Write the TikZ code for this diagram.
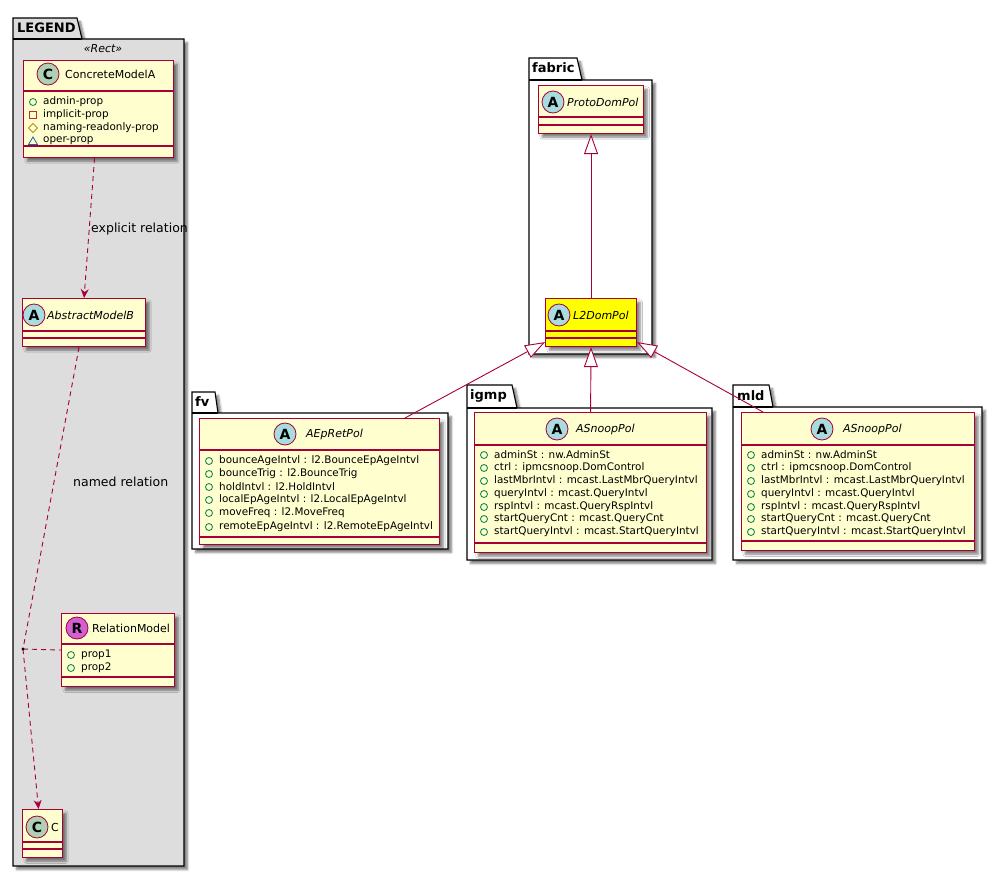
\documentclass[tikz,border=0pt]{standalone}
\usepackage{fontspec}
\setmainfont{DejaVu Sans}
\usetikzlibrary{arrows.meta,shadows.blur,calc}
\definecolor{umlred}{HTML}{A80036}
\definecolor{umlfill}{HTML}{FEFECE}
\definecolor{legendgray}{HTML}{DDDDDD}
\definecolor{iconC}{HTML}{ADD1B2}
\definecolor{iconA}{HTML}{A9DCDF}
\definecolor{iconR}{HTML}{D45FD4}
\definecolor{pubgreen}{HTML}{038048}
\definecolor{privred}{HTML}{C82930}
\definecolor{protyel}{HTML}{B38D22}
\definecolor{pkgblue}{HTML}{1963A0}
\definecolor{l2yellow}{HTML}{FFFF00}

\tikzset{
  shad/.style={blur shadow={shadow xshift=3.5pt, shadow yshift=-3.5pt, shadow blur steps=5, shadow opacity=50}},
  cls/.style={draw=umlred, fill=umlfill, line width=1.1pt, inner sep=0pt, anchor=north west, shad},
  sepline/.style={draw=umlred, line width=1.1pt},
  icon/.style={circle, draw=umlred, line width=0.8pt, minimum size=22pt, inner sep=0pt, font=\fontsize{14}{14}\selectfont\bfseries},
  cname/.style={anchor=west, inner sep=0pt, font=\fontsize{11}{12}\selectfont},
  aname/.style={anchor=west, inner sep=0pt, font=\fontsize{10.4}{11}\selectfont},
  pkgbox/.style={draw=black, line width=1.1pt, fill=white, shad},
  pkglabel/.style={anchor=west, inner sep=0pt, font=\fontsize{13}{13}\selectfont\bfseries},
  rel/.style={draw=umlred, line width=0.9pt},
  dep/.style={rel, dash pattern=on 5pt off 4pt, -{Stealth[length=9pt,width=8pt,inset=3pt]}},
  inh/.style={rel, -{Triangle[open, length=20pt, width=14pt, fill=white]}},
  lbl/.style={anchor=west, inner sep=0pt, font=\fontsize{12.5}{13}\selectfont},
}
% marker macros: #1 x, #2 y
\newcommand\mkpub[2]{\draw[pubgreen, line width=0.8pt] (#1,#2) circle[radius=3.5pt];}
\newcommand\mkpriv[2]{\draw[privred, line width=0.8pt] (#1-3.5,#2-3.5) rectangle (#1+3.5,#2+3.5);}
\newcommand\mkprot[2]{\draw[protyel, line width=0.8pt] (#1,#2-4.5) -- (#1+4.5,#2) -- (#1,#2+4.5) -- (#1-4.5,#2) -- cycle;}
\newcommand\mkpkg[2]{\draw[pkgblue, line width=0.8pt] (#1-4.5,#2+3.5) -- (#1+4.5,#2+3.5) -- (#1,#2-4) -- cycle;}
% attribute row: name, box-left x, y, text
\newcommand\attrrow[4]{\mkpub{#2+10}{#3}\node[aname] (#1) at (#2+20,#3) {#4};}
% package outline: x0, ytab, xtabtop, xtabbot, ybody, x1, ybot, fill
\newcommand\pkgshape[8]{%
  \draw[pkgbox, fill=#8] (#1,#5) -- (#1,#2) -- (#3,#2) -- (#4,#5) -- (#6,#5) -- (#6,#7) -- (#1,#7) -- cycle;
  \draw[line width=1.1pt] (#1,#5) -- (#4,#5);}

\begin{document}
\begin{tikzpicture}[x=1pt,y=-1pt]
\useasboundingbox (0,0) rectangle (1002,876);

% ================= LEGEND =================
\pkgshape{13}{18}{77}{82}{39}{184}{866}{legendgray}
\node[pkglabel] (legendlbl) at (17,28) {LEGEND};
\node[inner sep=0pt, font=\fontsize{11}{12}\selectfont\itshape] (stereo) at (103,49) {«Rect»};

% ConcreteModelA
\node[cls, minimum width=150pt, minimum height=97pt] (cma) at (23,60) {};
\draw[sepline] (23,91) -- (173,91);
\draw[sepline] (23,146) -- (173,146);
\node[icon, fill=iconC] (cmaicon) at (48,74) {C};
\node[cname] (cmaname) at (65,74) {ConcreteModelA};
\mkpub{33}{102}\node[aname] (cmaa1) at (43,102) {admin-prop};
\mkpriv{33}{115}\node[aname] (cmaa2) at (43,115) {implicit-prop};
\mkprot{33}{128}\node[aname] (cmaa3) at (43,128) {naming-readonly-prop};
\mkpkg{33}{141}\node[aname] (cmaa4) at (43,141) {oper-prop};

% AbstractModelB
\node[cls, minimum width=123pt, minimum height=48pt] (amb) at (22,298) {};
\draw[sepline] (22,331) -- (145,331);
\draw[sepline] (22,338) -- (145,338);
\node[icon, fill=iconA] (ambicon) at (34,315) {A};
\node[cname, font=\fontsize{11}{12}\selectfont\itshape] (ambname) at (47,315) {AbstractModelB};

% RelationModel
\node[cls, minimum width=113pt, minimum height=73pt] (rm) at (61,613) {};
\draw[sepline] (61,644) -- (174,644);
\draw[sepline] (61,677) -- (174,677);
\node[icon, fill=iconR] (rmicon) at (77,628) {R};
\node[cname] (rmname) at (92,628) {RelationModel};
\attrrow{rma1}{61}{655}{prop1}
\attrrow{rma2}{61}{668}{prop2}

% C
\node[cls, minimum width=40pt, minimum height=48pt] (cc) at (22,809) {};
\draw[sepline] (22,842) -- (62,842);
\draw[sepline] (22,849) -- (62,849);
\node[icon, fill=iconC] (ccicon) at (37,827) {C};
\node[cname] (ccname) at (51,827) {C};

% legend relations
\coordinate (dot) at (23,649);
\draw[dep] ([xshift=-4pt]cma.south) -- (amb.north);
\node[lbl] (explbl) at (91,229) {explicit relation};
\draw[rel, dash pattern=on 5pt off 4pt] ([xshift=-5pt]amb.south) -- (dot);
\draw[dep] (dot) -- ([xshift=-4pt]cc.north);
\draw[rel, dash pattern=on 5pt off 4pt] (dot) -- (rm.west);
\fill[black] (dot) circle[radius=1.6pt];
\node[lbl] (namedlbl) at (73,482) {named relation};

% ================= fabric =================
\pkgshape{529}{58}{577}{582}{80}{652}{354}{white}
\node[pkglabel] (fabriclbl) at (532,68) {fabric};
\node[cls, minimum width=105pt, minimum height=48pt] (proto) at (538,85) {};
\draw[sepline] (538,117) -- (643,117);
\draw[sepline] (538,125) -- (643,125);
\node[icon, fill=iconA] (protoicon) at (553,102) {A};
\node[cname, font=\fontsize{11}{12}\selectfont\itshape] (protoname) at (567,102) {ProtoDomPol};

\node[cls, fill=l2yellow, minimum width=91pt, minimum height=48pt] (l2) at (545,298) {};
\draw[sepline] (545,331) -- (636,331);
\draw[sepline] (545,338) -- (636,338);
\node[icon, fill=iconA] (l2icon) at (559,315) {A};
\node[cname, font=\fontsize{11}{12}\selectfont\itshape] (l2name) at (573,315) {L2DomPol};

% ================= fv =================
\pkgshape{192}{392}{215}{218}{413}{448}{549}{white}
\node[pkglabel] (fvlbl) at (195,402) {fv};
\node[cls, minimum width=240pt, minimum height=126pt] (aep) at (199,418) {};
\draw[sepline] (199,450) -- (439,450);
\draw[sepline] (199,537) -- (439,537);
\node[icon, fill=iconA] (aepicon) at (285,434) {A};
\node[cname, font=\fontsize{11}{12}\selectfont\itshape] (aepname) at (306,434) {AEpRetPol};
\attrrow{aepa1}{199}{461}{bounceAgeIntvl : l2.BounceEpAgeIntvl}
\attrrow{aepa2}{199}{474}{bounceTrig : l2.BounceTrig}
\attrrow{aepa3}{199}{487}{holdIntvl : l2.HoldIntvl}
\attrrow{aepa4}{199}{500}{localEpAgeIntvl : l2.LocalEpAgeIntvl}
\attrrow{aepa5}{199}{513}{moveFreq : l2.MoveFreq}
\attrrow{aepa6}{199}{527}{remoteEpAgeIntvl : l2.RemoteEpAgeIntvl}

% ================= igmp =================
\pkgshape{467}{385}{512}{517}{408}{712}{560}{white}
\node[pkglabel] (igmplbl) at (470,396) {igmp};
\node[cls, minimum width=232pt, minimum height=140pt] (ig) at (474,412) {};
\draw[sepline] (474,445) -- (706,445);
\draw[sepline] (474,543) -- (706,543);
\node[icon, fill=iconA] (igicon) at (557,429) {A};
\node[cname, font=\fontsize{11}{12}\selectfont\itshape] (igname) at (576,429) {ASnoopPol};
\attrrow{iga1}{474}{455}{adminSt : nw.AdminSt}
\attrrow{iga2}{474}{468}{ctrl : ipmcsnoop.DomControl}
\attrrow{iga3}{474}{481}{lastMbrIntvl : mcast.LastMbrQueryIntvl}
\attrrow{iga4}{474}{494}{queryIntvl : mcast.QueryIntvl}
\attrrow{iga5}{474}{507}{rspIntvl : mcast.QueryRspIntvl}
\attrrow{iga6}{474}{519}{startQueryCnt : mcast.QueryCnt}
\attrrow{iga7}{474}{532}{startQueryIntvl : mcast.StartQueryIntvl}

% ================= mld =================
\pkgshape{733}{385}{769}{773}{407}{982}{560}{white}
\node[pkglabel] (mldlbl) at (737,396) {mld};
\node[cls, minimum width=233pt, minimum height=138pt] (ml) at (741,412) {};
\draw[sepline] (741,445) -- (974,445);
\draw[sepline] (741,541) -- (974,541);
\node[icon, fill=iconA] (mlicon) at (822,429) {A};
\node[cname, font=\fontsize{11}{12}\selectfont\itshape] (mlname) at (843,429) {ASnoopPol};
\attrrow{mla1}{741}{455}{adminSt : nw.AdminSt}
\attrrow{mla2}{741}{468}{ctrl : ipmcsnoop.DomControl}
\attrrow{mla3}{741}{481}{lastMbrIntvl : mcast.LastMbrQueryIntvl}
\attrrow{mla4}{741}{494}{queryIntvl : mcast.QueryIntvl}
\attrrow{mla5}{741}{507}{rspIntvl : mcast.QueryRspIntvl}
\attrrow{mla6}{741}{519}{startQueryCnt : mcast.QueryCnt}
\attrrow{mla7}{741}{532}{startQueryIntvl : mcast.StartQueryIntvl}

% ================= inheritance =================
\draw[inh] (l2.north) -- (proto.south);
\draw[inh] ([xshift=206pt]aep.north west) -- ([yshift=5pt]l2.south west);
\draw[inh] (ig.north) -- (l2.south);
\draw[inh] ([xshift=22pt]ml.north west) -- ([yshift=5pt]l2.south east);
\end{tikzpicture}
\end{document}
